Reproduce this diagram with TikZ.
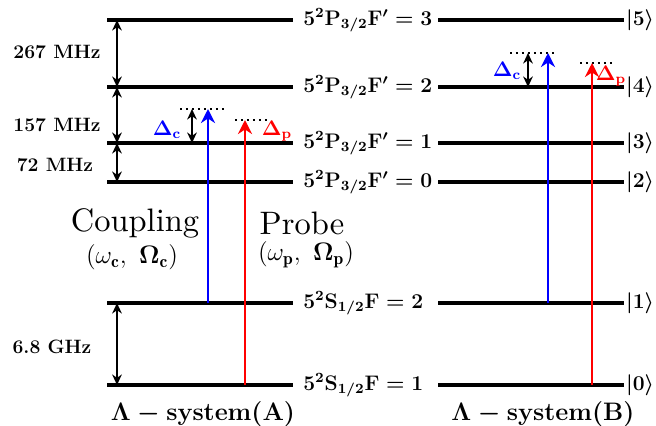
\documentclass[tikz,border=0pt]{standalone}
\usepackage{amsmath,amssymb}
\usepackage{fontspec}
\usepackage{tikz}
\usetikzlibrary{arrows.meta,positioning,calc}
\newfontfamily\beamfont{lmroman10-regular}[Extension=.otf]
\definecolor{couplingblue}{RGB}{0, 0, 255}
\definecolor{probered}{RGB}{255, 0, 0}

\begin{document}
\begin{tikzpicture}[
    x=0.02cm, y=-0.02cm,
    >=Stealth,
    lvl/.style={line width=1.8pt, black},
    levellabel/.style={anchor=west, font=\large\boldmath, inner sep=0pt},
    ket/.style={anchor=west, font=\large\boldmath, inner sep=1pt},
    gaparrow/.style={<->, line width=1.1pt, black, >={Stealth[length=6pt, width=5.5pt]}},
    freq/.style={font=\fontsize{11}{13}\selectfont\bfseries, inner sep=0pt},
    laser/.style={->, line width=1.6pt, >={Stealth[length=8pt, width=8pt]}},
    virtual/.style={line width=1.2pt, dash pattern=on 1.2pt off 2.2pt, black},
    detuning/.style={font=\fontsize{12}{14}\selectfont\boldmath, inner sep=0pt},
    beamname/.style={font=\fontsize{18.5}{20}\beamfont},
    beamparam/.style={font=\Large},
    sysname/.style={font=\fontsize{13.5}{15}\selectfont\boldmath}
]
\useasboundingbox (0,0) rectangle (656,426);

% ==================== ENERGY LEVELS ====================
\foreach \n/\y/\term in {5/20/{P_{3/2}F'=3}, 4/87/{P_{3/2}F'=2}, 3/143/{P_{3/2}F'=1},
                         2/182/{P_{3/2}F'=0}, 1/303/{S_{1/2}F=2}, 0/385/{S_{1/2}F=1}} {
    \coordinate (A\n) at (107,\y);
    \coordinate (A\n e) at (293,\y);
    \coordinate (B\n) at (438,\y);
    \coordinate (B\n e) at (624,\y);
    \draw[lvl] (A\n) -- (A\n e);
    \draw[lvl] (B\n) -- (B\n e);
    \node[levellabel] (term\n) at (303,\y) {$\mathbf{5^2\term}$};
    \node[ket] (ket\n) at (B\n e) {$|\n\rangle$};
}

% ==================== HYPERFINE SPLITTINGS ====================
\coordinate (gapx) at (117,0);
\draw[gaparrow] (gapx |- A5) -- (gapx |- A4);
\draw[gaparrow] (gapx |- A4) -- (gapx |- A3);
\draw[gaparrow] (gapx |- A3) -- (gapx |- A2);
\draw[gaparrow] (gapx |- A1) -- (gapx |- A0);

\node[freq] (f267) at (57,52) {267 MHz};
\node[freq] (f157) at (57,125) {157 MHz};
\node[freq] (f72) at (55,165) {72 MHz};
\node[freq] (f68) at (52,347) {6.8 GHz};

% ==================== LAMBDA SYSTEM (A) ====================
\coordinate (vcA) at (208,109);
\coordinate (vpA) at (245,120);
\coordinate (dcA) at (192,109);

\draw[virtual] ($(vcA)+(-28,0)$) -- ++(47,0);
\draw[virtual] ($(vpA)+(-10,0)$) -- ++(33,0);
\draw[gaparrow] (dcA) -- (dcA |- A3);

\draw[laser, couplingblue] (vcA |- A1) -- (vcA);
\draw[laser, probered] (vpA |- A0) -- (vpA);

\node[detuning, text=couplingblue] (dcAlabel) at (167,130) {$\Delta_{\mathbf{c}}$};
\node[detuning, text=probered] (dpAlabel) at (277,131) {$\Delta_{\mathbf{p}}$};

% ==================== LAMBDA SYSTEM (B) ====================
\coordinate (vcB) at (548,53);
\coordinate (vpB) at (592,63);
\coordinate (dcB) at (528,53);

\draw[virtual] ($(vcB)+(-38,0)$) -- ++(47,0);
\draw[virtual] ($(vpB)+(-12,0)$) -- ++(33,0);
\draw[gaparrow] (dcB) -- (dcB |- B4);

\draw[laser, couplingblue] (vcB |- B1) -- (vcB);
\draw[laser, probered] (vpB |- B0) -- (vpB);

\node[detuning, text=couplingblue] (dcBlabel) at (507,71) {$\Delta_{\mathbf{c}}$};
\node[detuning, text=probered] (dpBlabel) at (611,76) {$\Delta_{\mathbf{p}}$};

% ==================== BEAM LABELS ====================
\node[beamname] (coupling) at (135,223) {Coupling};
\node[beamparam] (couplingpar) at (132,257) {$(\omega_{\mathbf{c}},\ \boldsymbol{\Omega}_{\mathbf{c}})$};
\node[beamname] (probe) at (302,223) {Probe};
\node[beamparam] (probepar) at (306,255) {$(\omega_{\mathbf{p}},\ \boldsymbol{\Omega}_{\mathbf{p}})$};

\node[sysname] (sysA) at (203,414) {$\Lambda-\mathbf{system(A)}$};
\node[sysname] (sysB) at (543,414) {$\Lambda-\mathbf{system(B)}$};

\end{tikzpicture}
\end{document}
